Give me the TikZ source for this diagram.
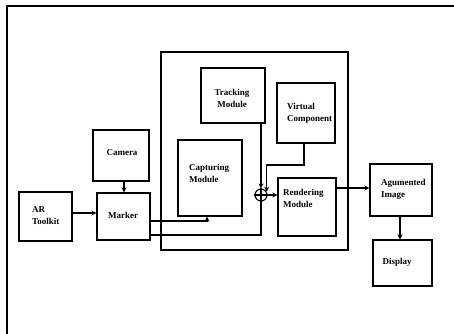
\documentclass[tikz,border=0pt]{standalone}
\usepackage{fontspec}
\setmainfont{Liberation Serif}
\usetikzlibrary{arrows.meta}
\tikzset{
  box/.style={draw, line width=1.3pt, inner sep=0pt, fill=white},
  bigbox/.style={draw, line width=2.4pt, inner sep=0pt},
  lbl/.style={font=\fontsize{9}{12}\selectfont\bfseries, align=left, inner sep=0pt},
  clbl/.style={font=\fontsize{9}{12}\selectfont\bfseries, align=center, inner sep=0pt},
  conn/.style={line width=1.1pt},
  arr/.style={conn, -{Stealth[length=5pt,width=5pt]}},
  frame/.style={line width=1.1pt}
}
\begin{document}
\begin{tikzpicture}[x=1pt,y=-1pt]
\useasboundingbox (0,0) rectangle (454,333);
% outer frame
\draw[frame] (7,334) -- (7,6) -- (455,6);
% big box
\node[bigbox, minimum width=187pt, minimum height=198pt] (big) at (254.5,151) {};
% boxes
\node[box, minimum width=64pt, minimum height=55pt] (track) at (233,95.5) {};
\node[box, minimum width=58pt, minimum height=60pt] (virt) at (306,113) {};
\node[box, minimum width=64pt, minimum height=76pt] (capt) at (210,178) {};
\node[box, minimum width=58pt, minimum height=58pt] (rend) at (307,207) {};
\node[box, minimum width=56pt, minimum height=51pt] (cam) at (121,155.5) {};
\node[box, minimum width=53pt, minimum height=47pt] (mark) at (123.5,216.5) {};
\node[box, minimum width=53pt, minimum height=49pt] (ar) at (45.5,216.5) {};
\node[box, minimum width=62pt, minimum height=52pt] (aug) at (401,190) {};
\node[box, minimum width=59pt, minimum height=46pt] (disp) at (402.5,263) {};
% labels
\node[clbl] (tracktxt) at (232,98) {Tracking\\Module};
\node[lbl, anchor=north west] (virttxt) at (287,103) {Virtual\\Component};
\node[lbl, anchor=north west] (capttxt) at (189,164) {Capturing\\Module};
\node[lbl, anchor=north west] (rendtxt) at (283,189) {Rendering\\Module};
\node[clbl] (camtxt) at (122,153) {Camera};
\node[clbl] (marktxt) at (123,215) {Marker};
\node[lbl, anchor=north west] (artxt) at (32,206) {AR\\Toolkit};
\node[lbl, anchor=north west] (augtxt) at (381,179) {Agumented\\Image};
\node[clbl] (disptxt) at (397,262) {Display};
% summing junction
\node[draw, circle, line width=1.1pt, minimum size=12pt, inner sep=0pt] (sum) at (261,195) {};
\draw[conn] (sum.north) -- (sum.south);
\draw[conn] (sum.west) -- (sum.east);
% connectors
\draw[arr] (cam.south -| 124,0) -- (mark.north -| 124,0);
\draw[arr] (ar.east |- 0,213) -- (mark.west |- 0,213);
\draw[arr] (mark.east |- 0,221) -| (capt.south -| 207,0);
\draw[conn] (mark.east |- 0,235) -| (sum.south);
\draw[arr] (track.south -| sum.north) -- (sum.north);
\draw[arr] (virt.south -| 304,0) |- (sum.30 |- 0,165) -- (sum.30);
\draw[arr] (sum.east) -- (rend.west |- sum.east);
\draw[arr] (rend.east |- 0,188) -- (aug.west |- 0,188);
\draw[arr] (aug.south -| 400,0) -- (disp.north -| 400,0);
\end{tikzpicture}
\end{document}
